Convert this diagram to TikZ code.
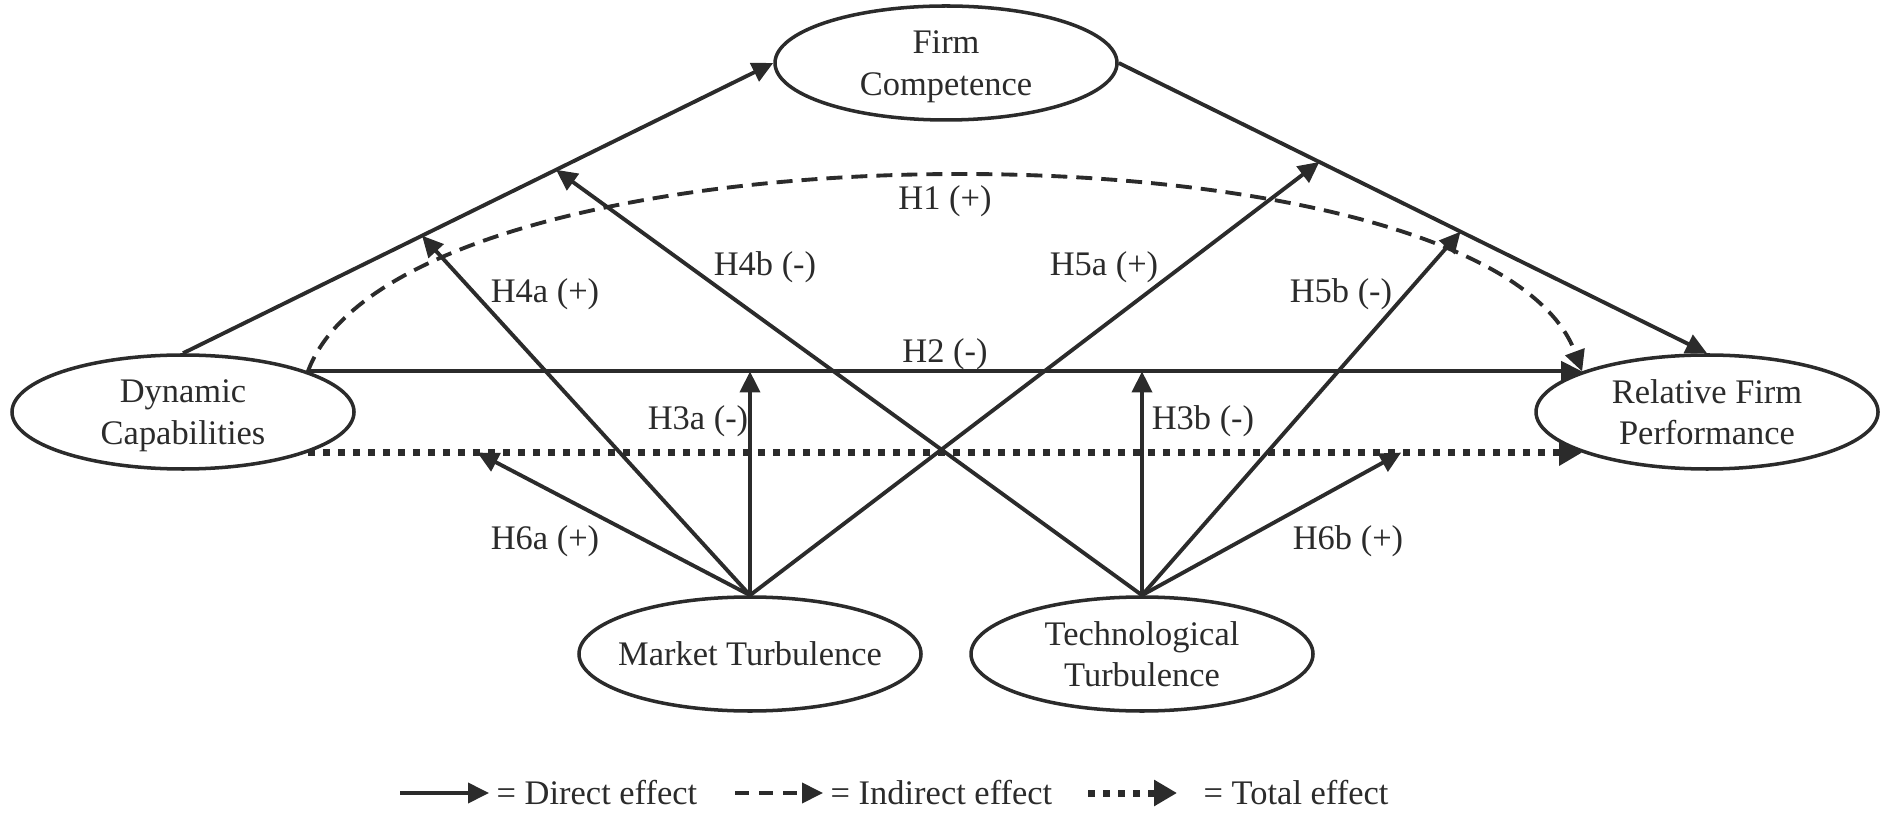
\documentclass[tikz,border=0pt]{standalone}
\usepackage{fontspec}
\setmainfont{Liberation Serif}
\usetikzlibrary{shapes.geometric,arrows.meta,calc}
\definecolor{ink}{HTML}{2B2B2B}
\begin{document}
\begin{tikzpicture}[
  every node/.style={text=ink, font=\fontsize{9.8}{11.8}\selectfont},
  construct/.style={draw=ink, line width=1pt, ellipse, minimum width=3.42cm,
    minimum height=1.14cm, inner xsep=-0.4cm, inner ysep=-0.1cm, align=center,
    text depth=0pt},
  direct/.style={draw=ink, line width=1.1pt, -{Triangle[length=0.21cm,width=0.2cm]}},
  indirect/.style={direct, dash pattern=on 0.16cm off 0.09cm},
  total/.style={draw=ink, line width=0.07cm, dash pattern=on 0.07cm off 0.08cm,
    -{Triangle[length=0.23cm,width=0.25cm]}},
  hyp/.style={anchor=base, inner sep=0pt},
  keytext/.style={anchor=base west, inner sep=0pt},
]
\useasboundingbox (0,0) rectangle (18.83,-8.15);

% constructs
\node[construct] (fc)  at (9.46,-0.63)  {Firm\\Competence};
\node[construct] (dc)  at (1.83,-4.12)  {Dynamic\\Capabilities};
\node[construct] (rfp) at (17.07,-4.12) {Relative Firm\\Performance};
\node[construct] (mt)  at (7.50,-6.54)  {Market Turbulence};
\node[construct] (tt)  at (11.42,-6.54) {Technological\\Turbulence};

% end points of the horizontal paths between DC and RFP
\coordinate (h2s) at (dc.18);
\coordinate (h2e) at (rfp.162);
\coordinate (tes) at (dc.-18.5);
\coordinate (tee) at (rfp.198.5);

% mediated path via firm competence
\draw[direct] (dc.north) -- (fc.west);
\draw[direct] (fc.east) -- (rfp.north);

% direct, indirect and total effects
\draw[direct] (h2s) -- (h2e);
\draw[indirect] (h2s) .. controls +(0.96,2.6) and +(-0.96,2.6) .. (h2e);
\draw[total] (tes) -- (tee);

% moderation targets
\coordinate (h4a) at ($(dc.north)!0.405!(fc.west)$);
\coordinate (h4b) at ($(dc.north)!0.632!(fc.west)$);
\coordinate (h5a) at ($(fc.east)!0.341!(rfp.north)$);
\coordinate (h5b) at ($(fc.east)!0.581!(rfp.north)$);
\coordinate (h6a) at ($(tes)!0.133!(tee)$);
\coordinate (h6b) at ($(tes)!0.858!(tee)$);

% market turbulence moderations
\draw[direct] (mt.north) -- (h4a);
\draw[direct] (mt.north) -- (h5a);
\draw[direct] (mt.north) -- (mt.north |- h2s);
\draw[direct] (mt.north) -- (h6a);

% technological turbulence moderations
\draw[direct] (tt.north) -- (h4b);
\draw[direct] (tt.north) -- (h5b);
\draw[direct] (tt.north) -- (tt.north |- h2s);
\draw[direct] (tt.north) -- (h6b);

% hypothesis labels
\node[hyp] (l1)  at (9.45,-2.10)  {H1 (+)};
\node[hyp] (l2)  at (9.45,-3.63)  {H2 (-)};
\node[hyp] (l3a) at (6.98,-4.30)  {H3a (-)};
\node[hyp] (l3b) at (12.03,-4.30) {H3b (-)};
\node[hyp] (l4a) at (5.45,-3.03)  {H4a (+)};
\node[hyp] (l4b) at (7.65,-2.76)  {H4b (-)};
\node[hyp] (l5a) at (11.04,-2.76) {H5a (+)};
\node[hyp] (l5b) at (13.41,-3.03) {H5b (-)};
\node[hyp] (l6a) at (5.45,-5.50)  {H6a (+)};
\node[hyp] (l6b) at (13.48,-5.50) {H6b (+)};

% legend
\coordinate (k1s) at (4.00,-7.93);
\coordinate (k1e) at (4.89,-7.93);
\coordinate (k2s) at (7.35,-7.93);
\coordinate (k2e) at (8.23,-7.93);
\coordinate (k3s) at (10.88,-7.93);
\coordinate (k3e) at (11.77,-7.93);
\draw[direct] (k1s) -- (k1e);
\draw[direct, dash pattern=on 0.14cm off 0.1cm] (k2s) -- (k2e);
\draw[total] (k3s) -- (k3e);
\node[keytext] (k1) at (4.96,-8.04)  {= Direct effect};
\node[keytext] (k2) at (8.30,-8.04)  {= Indirect effect};
\node[keytext] (k3) at (12.03,-8.04) {= Total effect};
\end{tikzpicture}
\end{document}
